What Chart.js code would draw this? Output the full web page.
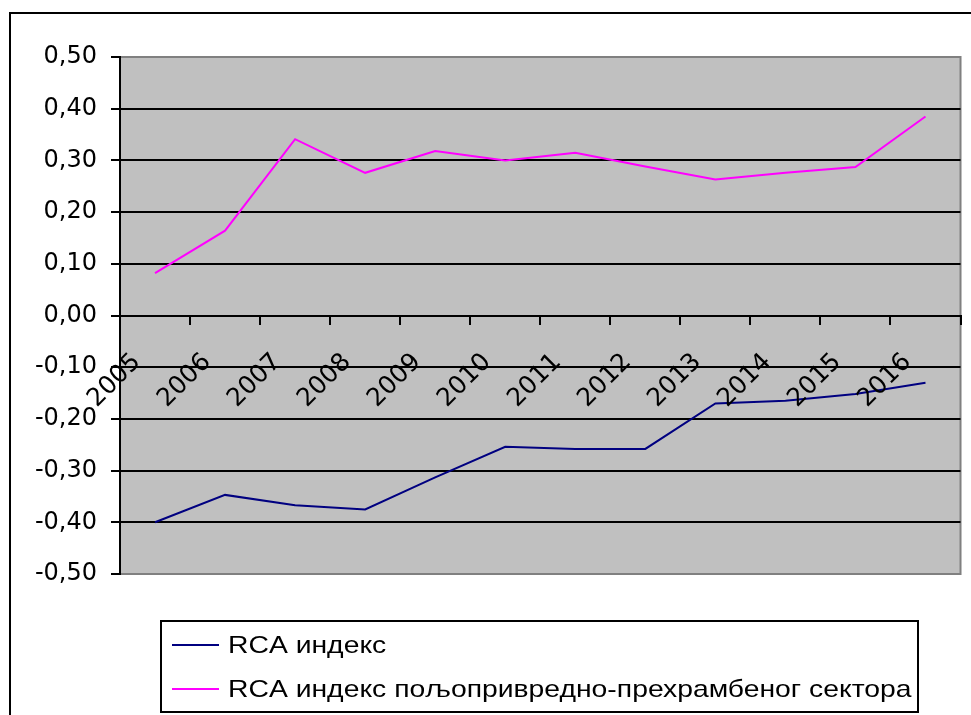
<!DOCTYPE html>
<html>
<head>
<meta charset="utf-8">
<script src="https://cdn.jsdelivr.net/npm/chart.js@4/dist/chart.umd.min.js"></script>
<style>
  html, body { margin: 0; padding: 0; background: #ffffff; }
  #wrap { width: 971px; height: 715px; }
</style>
</head>
<body>
<div id="wrap"><canvas id="c" width="971" height="715"></canvas></div>
<script>
// ---- data ----
const years = ['2005','2006','2007','2008','2009','2010','2011','2012','2013','2014','2015','2016'];
const rcaIndex = [-0.400, -0.347, -0.367, -0.375, -0.313, -0.254, -0.258, -0.258, -0.170, -0.165, -0.152, -0.130];
const rcaAgriFood = [0.082, 0.164, 0.341, 0.276, 0.318, 0.300, 0.315, 0.288, 0.263, 0.276, 0.287, 0.385];
const seriesNames = ['RCA индекс', 'RCA индекс пољопривредно-прехрамбеног сектора'];
const seriesColors = ['#000080', '#FF00FF'];

const TICK_FONT = "'DejaVu Sans', 'Liberation Sans', Arial, sans-serif";
const LEGEND_FONT = "'Liberation Sans', Arial, sans-serif";

const decorPlugin = {
  id: 'decor',
  beforeDraw(chart) {
    const ctx = chart.ctx, a = chart.chartArea;
    ctx.save();
    ctx.fillStyle = '#ffffff';
    ctx.fillRect(0, 0, chart.width, chart.height);
    ctx.strokeStyle = '#000000';
    ctx.lineWidth = 2;
    ctx.strokeRect(10, 13, 1200, 1200);
    ctx.fillStyle = '#C0C0C0';
    ctx.fillRect(a.left, a.top, a.right - a.left, a.bottom - a.top);
    ctx.strokeStyle = '#808080';
    ctx.lineWidth = 2;
    ctx.strokeRect(a.left, a.top, a.right - a.left, a.bottom - a.top);
    ctx.restore();
  },
  afterDraw(chart) {
    const ctx = chart.ctx;
    const box = { x: 161, y: 621, w: 757, h: 91 };
    ctx.save();
    ctx.fillStyle = '#ffffff';
    ctx.fillRect(box.x, box.y, box.w, box.h);
    ctx.strokeStyle = '#000000';
    ctx.lineWidth = 2;
    ctx.strokeRect(box.x, box.y, box.w, box.h);
    ctx.font = '24px ' + LEGEND_FONT;
    ctx.textBaseline = 'middle';
    ctx.textAlign = 'left';
    chart.data.datasets.forEach((ds, i) => {
      const y = 645 + i * 44;
      ctx.strokeStyle = ds.borderColor;
      ctx.lineWidth = 2;
      ctx.beginPath();
      ctx.moveTo(172, y);
      ctx.lineTo(219, y);
      ctx.stroke();
      ctx.save();
      ctx.translate(228, y + 1);
      ctx.scale(1.18, 1);
      ctx.fillStyle = '#000000';
      ctx.fillText(ds.label, 0, 0);
      ctx.restore();
    });
    ctx.restore();
  }
};

new Chart(document.getElementById('c'), {
  type: 'line',
  data: {
    labels: years,
    datasets: [
      { label: seriesNames[0], data: rcaIndex, borderColor: seriesColors[0], backgroundColor: seriesColors[0],
        borderWidth: 2, pointRadius: 0, tension: 0, fill: false },
      { label: seriesNames[1], data: rcaAgriFood, borderColor: seriesColors[1], backgroundColor: seriesColors[1],
        borderWidth: 2, pointRadius: 0, tension: 0, fill: false }
    ]
  },
  options: {
    responsive: false,
    devicePixelRatio: 1,
    animation: false,
    layout: { padding: { left: 0, top: 57, right: 7, bottom: 141 } },
    plugins: { legend: { display: false }, tooltip: { enabled: false } },
    scales: {
      x: {
        type: 'category',
        position: { y: 0 },
        offset: true,
        grid: { offset: true, drawOnChartArea: false, drawTicks: true, tickLength: 8, color: '#000000', lineWidth: 2 },
        border: { display: true, color: '#000000', width: 2 },
        ticks: {
          autoSkip: false, minRotation: 45, maxRotation: 45,
          labelOffset: -18, padding: 24,
          color: '#000000', font: { family: TICK_FONT, size: 25 },
          z: 1
        }
      },
      y: {
        min: -0.5, max: 0.5,
        afterFit(scale) { scale.width = 120; },
        ticks: {
          stepSize: 0.1, padding: 14, color: '#000000', font: { family: TICK_FONT, size: 24 },
          callback: (v) => (Math.round(v * 100) / 100).toFixed(2).replace('.', ',')
        },
        grid: {
          color: (c) => (c.tick && Math.abs(Math.abs(c.tick.value) - 0.5) < 1e-6) ? '#808080' : '#000000',
          tickColor: '#000000', lineWidth: 2, tickLength: 9
        },
        border: { display: true, color: '#000000', width: 2 }
      }
    }
  },
  plugins: [decorPlugin]
});
</script>
</body>
</html>
